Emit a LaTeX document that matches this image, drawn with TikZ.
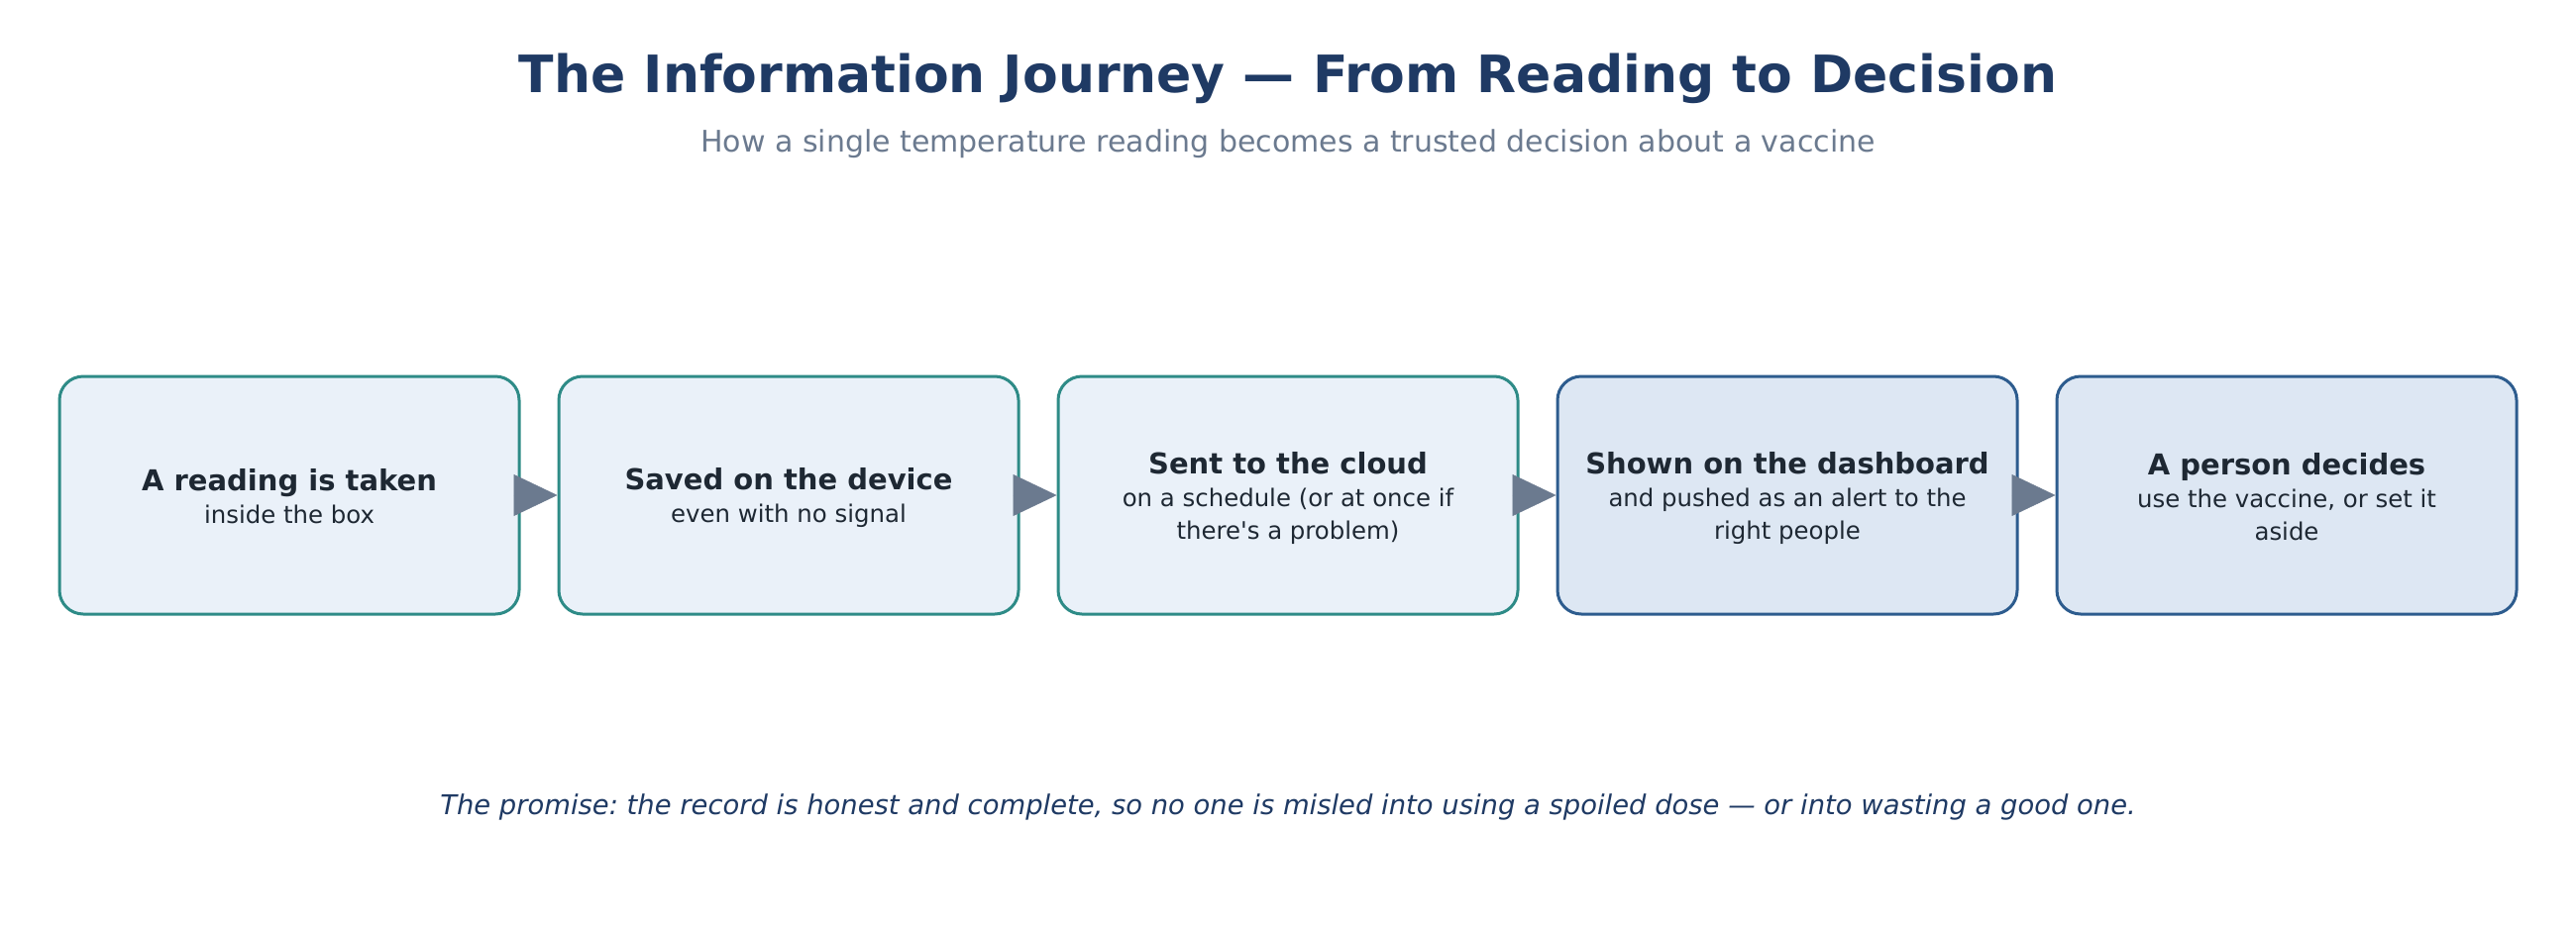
\documentclass[tikz,border=0pt]{standalone}
\usepackage{fontspec}
\setmainfont{DejaVu Sans}[Ligatures=TeXOff]
\usetikzlibrary{arrows.meta}
\definecolor{tealb}{HTML}{2E8B87}
\definecolor{tealf}{HTML}{EAF1F9}
\definecolor{blueb}{HTML}{2D5C8E}
\definecolor{bluef}{HTML}{DDE7F3}
\definecolor{arrowc}{HTML}{6B7A8F}
\definecolor{textc}{HTML}{1E2833}
\definecolor{titlec}{HTML}{1F3A64}
\definecolor{subc}{HTML}{6B7A8F}
\tikzset{
  stepbox/.style={line width=3pt, rounded corners=24pt, minimum width=464pt, minimum height=240pt,
    align=center, inner sep=0pt, text=textc, font=\fontsize{24.4}{33}\selectfont},
  tealbox/.style={stepbox, draw=tealb, fill=tealf},
  bluebox/.style={stepbox, draw=blueb, fill=bluef},
  flow/.style={draw=arrowc, fill=arrowc, line width=0.5pt, -{Triangle[length=44pt,width=42pt]}},
}
\newcommand{\stephead}[1]{{\fontsize{29}{33}\selectfont\bfseries\rule{0pt}{28pt}#1}}
\newcommand{\stepend}{\vphantom{()}}
\begin{document}
\frenchspacing
\begin{tikzpicture}[x=1pt,y=-1pt]
\useasboundingbox[fill=white] (0,0) rectangle (2600,940);
\node[text=titlec, font=\fontsize{52}{60}\selectfont\bfseries] (title) at (1300,79) {The Information Journey — From Reading to Decision};
\node[text=subc, font=\fontsize{30}{36}\selectfont] (subtitle) at (1300,145) {How a single temperature reading becomes a trusted decision about a vaccine};
\node[tealbox] (b1) at (292,500) {\stephead{A reading is taken}\\inside the box\stepend};
\node[tealbox] (b2) at (796,500) {\stephead{Saved on the device}\\even with no signal\stepend};
\node[tealbox] (b3) at (1300,500) {\stephead{Sent to the cloud}\\on a schedule (or at once if\\there's a problem)\stepend};
\node[bluebox] (b4) at (1804,500) {\stephead{Shown on the dashboard}\\and pushed as an alert to the\\right people\stepend};
\node[bluebox] (b5) at (2308,500) {\stephead{A person decides}\\use the vaccine, or set it\\aside\stepend};
\draw[flow] (b1.east) -- (b2.west);
\draw[flow] (b2.east) -- (b3.west);
\draw[flow] (b3.east) -- (b4.west);
\draw[flow] (b4.east) -- (b5.west);
\node[text=titlec, font=\fontsize{27.4}{33}\selectfont\itshape] (promise) at (1300,815) {The promise: the record is honest and complete, so no one is misled into using a spoiled dose — or into wasting a good one.};
\end{tikzpicture}
\end{document}
